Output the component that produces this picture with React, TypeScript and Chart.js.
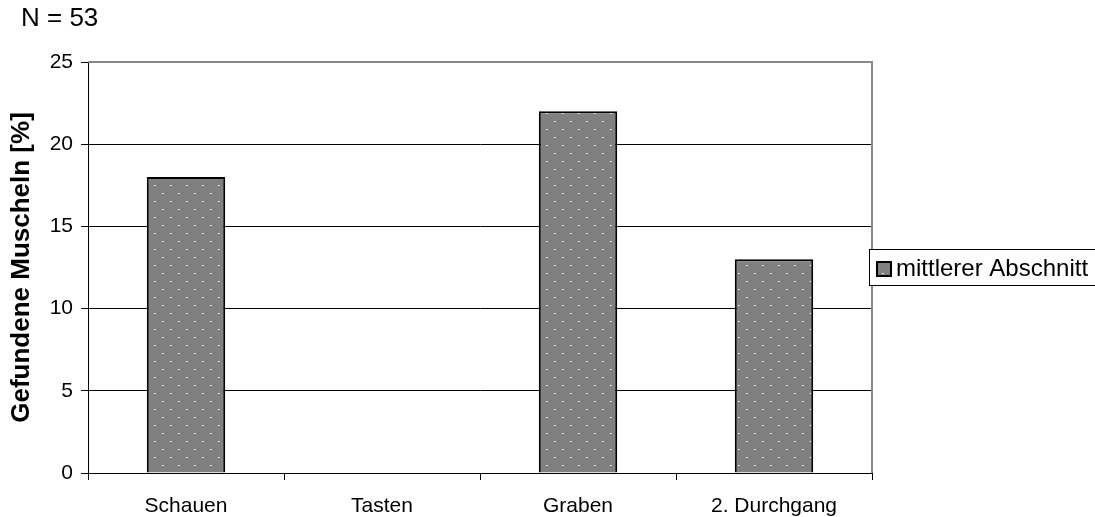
import React, { useEffect, useRef } from "react";
import { Chart, registerables } from "chart.js";

Chart.register(...registerables);

const categories = ["Schauen", "Tasten", "Graben", "2. Durchgang"];
const values = [18, 0, 22, 13];
const seriesLabel = "mittlerer Abschnitt";
const yTicks = [0, 5, 10, 15, 20, 25];
const yTitle = "Gefundene Muscheln [%]";
const headerText = "N = 53";

const FONT = "'Liberation Sans', Arial, sans-serif";

function makeDotPattern(): CanvasPattern | string {
  const tile = document.createElement("canvas");
  tile.width = 16;
  tile.height = 16;
  const c = tile.getContext("2d");
  if (!c) return "#808080";
  c.fillStyle = "#808080";
  c.fillRect(0, 0, 16, 16);
  c.fillStyle = "#ffffff";
  c.fillRect(2, 1, 1, 1);
  c.fillRect(10, 9, 1, 1);
  c.fillStyle = "rgba(255,255,255,0.55)";
  c.fillRect(3, 1, 1, 1);
  c.fillRect(11, 9, 1, 1);
  const p = c.createPattern(tile, "repeat");
  return p || "#808080";
}

export default function App() {
  const canvasRef = useRef<HTMLCanvasElement | null>(null);

  useEffect(() => {
    const canvas = canvasRef.current;
    if (!canvas) return;
    const pattern = makeDotPattern();

    const framePlugin = {
      id: "frameAndLegend",
      afterDraw(chart: any) {
        const { ctx, chartArea } = chart;
        const { left, right, top, bottom } = chartArea;
        ctx.save();
        // top and right frame in grey
        ctx.strokeStyle = "#888888";
        ctx.lineWidth = 2;
        ctx.beginPath();
        ctx.moveTo(left, top);
        ctx.lineTo(right, top);
        ctx.lineTo(right, bottom);
        ctx.stroke();

        // header text
        ctx.fillStyle = "#000";
        ctx.font = `26px ${FONT}`;
        ctx.textBaseline = "alphabetic";
        ctx.textAlign = "left";
        ctx.fillText(headerText, 21, 26);

        // legend box
        const lx = 869.5;
        const ly = 249.5;
        ctx.fillStyle = "#fff";
        ctx.fillRect(lx, ly, 240, 36);
        ctx.strokeStyle = "#000";
        ctx.lineWidth = 1;
        ctx.strokeRect(lx, ly, 240, 36);
        ctx.fillStyle = pattern;
        ctx.fillRect(877, 262, 14, 14);
        ctx.strokeStyle = "#000";
        ctx.lineWidth = 2;
        ctx.strokeRect(877, 262, 14, 14);
        ctx.fillStyle = "#000";
        ctx.font = `24px ${FONT}`;
        ctx.fillText(seriesLabel, 896, 276);
        ctx.restore();
      },
    };

    const chart = new Chart(canvas, {
      type: "bar",
      data: {
        labels: categories,
        datasets: [
          {
            label: seriesLabel,
            data: values,
            backgroundColor: pattern as any,
            borderColor: "#000",
            borderWidth: 2,
            borderSkipped: "bottom",
            categoryPercentage: 1,
            barPercentage: 0.4,
          },
        ],
      },
      options: {
        animation: false,
        responsive: false,
        maintainAspectRatio: false,
        layout: { padding: { left: 0, top: 62, right: 223, bottom: 0 } },
        plugins: {
          legend: { display: false },
          tooltip: { enabled: false },
        },
        scales: {
          x: {
            grid: {
              offset: true,
              drawOnChartArea: false,
              drawTicks: true,
              tickLength: 7,
              color: "#000",
            },
            border: { color: "#000", width: 1 },
            ticks: {
              color: "#000",
              font: { family: FONT, size: 21 },
              padding: 14,
            },
            afterFit(scale: any) {
              scale.height = 44;
            },
          },
          y: {
            min: 0,
            max: 25,
            afterBuildTicks(scale: any) {
              scale.ticks = yTicks.map((v) => ({ value: v }));
            },
            grid: {
              color: (c: any) => (c.tick && c.tick.value === 25 ? "#888888" : "#000"),
              tickLength: 7,
              tickColor: "#000",
            },
            border: { color: "#000", width: 1 },
            ticks: {
              color: "#000",
              font: { family: FONT, size: 21 },
              padding: 8,
            },
            title: {
              display: true,
              text: yTitle,
              color: "#000",
              font: { family: FONT, size: 26, weight: "bold" },
              padding: { top: 6, bottom: 4 },
            },
            afterFit(scale: any) {
              scale.width = 88;
            },
          },
        },
      },
      plugins: [framePlugin],
    });

    return () => chart.destroy();
  }, []);

  return (
    <div style={{ position: "fixed", left: 0, top: 0, width: 1095, height: 517, background: "#fff" }}>
      <canvas ref={canvasRef} width={1095} height={517} style={{ display: "block" }} />
    </div>
  );
}
